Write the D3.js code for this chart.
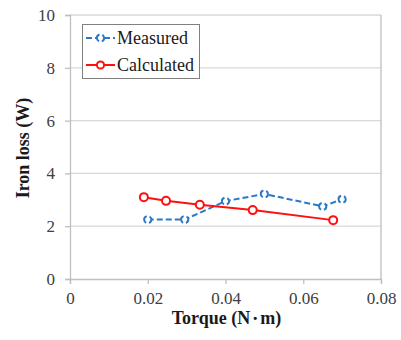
<!DOCTYPE html>
<html>
<head>
<meta charset="utf-8">
<script src="https://cdn.jsdelivr.net/npm/d3@7"></script>
<style>
  body { margin: 0; background: #fff; }
  svg text { font-family: "Liberation Serif", "Times New Roman", serif; }
</style>
</head>
<body>
<svg id="chart" width="401" height="340"></svg>
<script>
// Data
var measuredTorque = [0.020, 0.0295, 0.040, 0.050, 0.065, 0.070];
var measuredLoss   = [2.25, 2.25, 2.95, 3.22, 2.75, 3.02];
var calcTorque = [0.019, 0.0247, 0.0334, 0.047, 0.0677];
var calcLoss   = [3.10, 2.96, 2.81, 2.61, 2.23];
var xTicks = [0, 0.02, 0.04, 0.06, 0.08];
var yTicks = [0, 2, 4, 6, 8, 10];
var seriesNames = ['Measured', 'Calculated'];

var svg = d3.select('#chart');

var plot = {l: 70, r: 381, t: 15, b: 279};

var xScale = d3.scaleLinear().domain([0, 0.08]).range([plot.l, plot.r]);
var yScale = d3.scaleLinear().domain([0, 10]).range([plot.b, plot.t]);

// gridlines
svg.append('g')
  .selectAll('line')
  .data(yTicks.slice(1))
  .enter()
  .append('line')
    .attr('x1', plot.l).attr('x2', plot.r)
    .attr('y1', d => yScale(d)).attr('y2', d => yScale(d))
    .attr('stroke', '#d9d9d9').attr('stroke-width', 1.3);

// right border
svg.append('line')
  .attr('x1', plot.r).attr('x2', plot.r)
  .attr('y1', plot.t).attr('y2', plot.b)
  .attr('stroke', '#bfbfbf').attr('stroke-width', 1.3);

// axes
var yAxis = svg.append('g')
  .attr('transform', 'translate(' + plot.l + ',0)')
  .call(d3.axisLeft(yScale).tickValues(yTicks).tickSize(5).tickPadding(10).tickFormat(d3.format('d')));

var xAxis = svg.append('g')
  .attr('transform', 'translate(0,' + plot.b + ')')
  .call(d3.axisBottom(xScale).tickValues(xTicks).tickSize(5).tickPadding(8)
    .tickFormat(d => d === 0 ? '0' : d3.format('.2f')(d)));

[yAxis, xAxis].forEach(function(a) {
  a.select('.domain').attr('stroke', '#bfbfbf').attr('stroke-width', 1.3);
  a.selectAll('.tick line').attr('stroke', '#bfbfbf').attr('stroke-width', 1.3);
  a.selectAll('.tick text')
    .attr('fill', '#404040')
    .style('font-family', '"Liberation Serif", serif')
    .style('font-size', '17px');
});

// axis titles
var xTitle = svg.append('text')
  .attr('x', (plot.l + plot.r) / 2 + 1)
  .attr('y', 324)
  .attr('text-anchor', 'middle')
  .style('font-size', '18px')
  .style('font-weight', 'bold')
  .attr('fill', '#1a1a1a');
xTitle.append('tspan').text('Torque (N');
xTitle.append('tspan').attr('dx', -3).style('font-size', '16px').text('・');
xTitle.append('tspan').attr('dx', -3).text('m)');

svg.append('text')
  .attr('transform', 'translate(29,148) rotate(-90)')
  .attr('text-anchor', 'middle')
  .style('font-size', '18px')
  .style('font-weight', 'bold')
  .attr('fill', '#1a1a1a')
  .text('Iron loss (W)');

// series
var measured = measuredTorque.map((t, i) => ({x: t, y: measuredLoss[i]}));
var calculated = calcTorque.map((t, i) => ({x: t, y: calcLoss[i]}));

var lineGen = d3.line()
  .x(d => xScale(d.x))
  .y(d => yScale(d.y));

var blue = '#2b78c5';
var red = '#ff1010';
var mR = 3.6;
var quarter = Math.PI * mR / 2;
// dashed marker: two arcs, gaps at top and bottom
var markerDash = (2 * quarter - 3) + ',3';
var markerOffset = quarter - 1.5;

svg.append('path')
  .datum(measured)
  .attr('d', lineGen)
  .attr('fill', 'none')
  .attr('stroke', blue)
  .attr('stroke-width', 2)
  .attr('stroke-dasharray', '6,3');

svg.append('g')
  .selectAll('circle')
  .data(measured)
  .enter()
  .append('circle')
    .attr('cx', d => xScale(d.x))
    .attr('cy', d => yScale(d.y))
    .attr('r', mR)
    .attr('fill', '#fff')
    .attr('stroke', blue)
    .attr('stroke-width', 2)
    .attr('stroke-dasharray', markerDash)
    .attr('stroke-dashoffset', markerOffset);

svg.append('path')
  .datum(calculated)
  .attr('d', lineGen)
  .attr('fill', 'none')
  .attr('stroke', red)
  .attr('stroke-width', 2);

svg.append('g')
  .selectAll('circle')
  .data(calculated)
  .enter()
  .append('circle')
    .attr('cx', d => xScale(d.x))
    .attr('cy', d => yScale(d.y))
    .attr('r', 4)
    .attr('fill', '#fff')
    .attr('stroke', red)
    .attr('stroke-width', 2);

// legend
var legend = svg.append('g');
legend.append('rect')
  .attr('x', 82.5).attr('y', 24.5)
  .attr('width', 117).attr('height', 54)
  .attr('fill', '#fff')
  .attr('stroke', '#808080')
  .attr('stroke-width', 1);

var legendItems = [
  {name: seriesNames[0], color: blue, dash: '6,3', marker: true, y: 38},
  {name: seriesNames[1], color: red, dash: null, marker: false, y: 65}
];

legendItems.forEach(function(item) {
  legend.append('line')
    .attr('x1', 86).attr('x2', 115)
    .attr('y1', item.y).attr('y2', item.y)
    .attr('stroke', item.color)
    .attr('stroke-width', 2)
    .attr('stroke-dasharray', item.dash);
  legend.append('circle')
    .attr('cx', 100.5).attr('cy', item.y)
    .attr('r', item.marker ? mR : 3.6)
    .attr('fill', '#fff')
    .attr('stroke', item.color)
    .attr('stroke-width', 2)
    .attr('stroke-dasharray', item.marker ? markerDash : null)
    .attr('stroke-dashoffset', item.marker ? markerOffset : null);
  legend.append('text')
    .attr('x', 117)
    .attr('y', item.y + 6)
    .style('font-size', '18px')
    .attr('fill', '#1a1a1a')
    .text(item.name);
});
</script>
</body>
</html>
